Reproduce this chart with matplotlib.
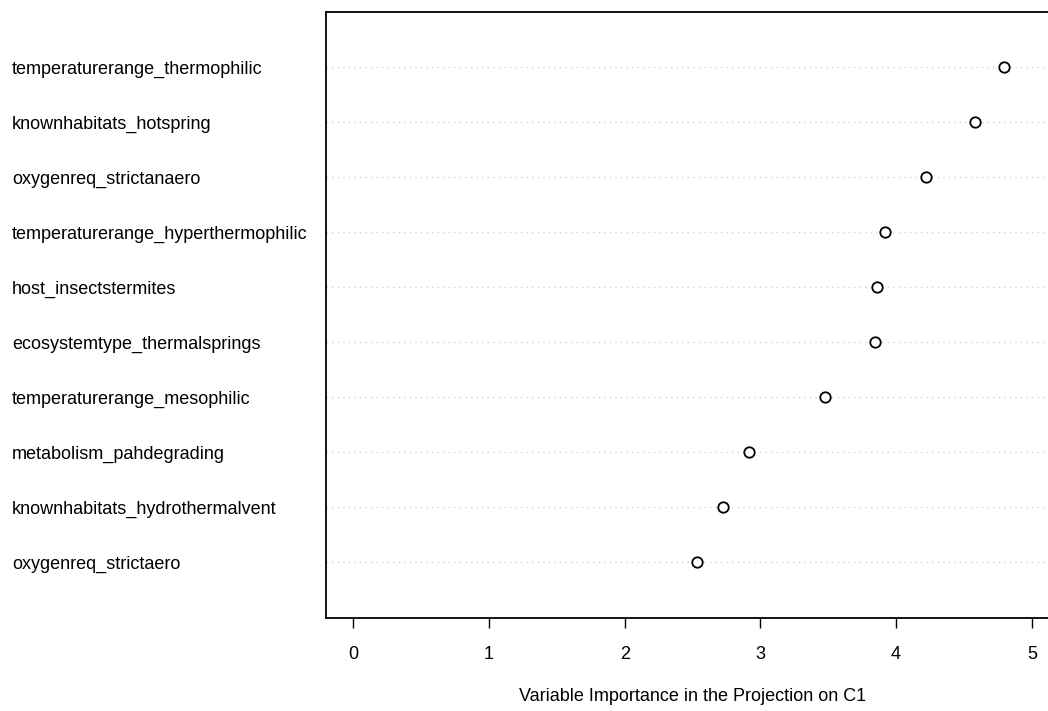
import matplotlib
matplotlib.use("Agg")
import matplotlib.pyplot as plt
import numpy as np

plt.rcParams['font.family'] = ['Liberation Sans', 'DejaVu Sans']

# variables listed from bottom to top, as in the dotchart
variables = [
    'oxygenreq_strictaero',
    'knownhabitats_hydrothermalvent',
    'metabolism_pahdegrading',
    'temperaturerange_mesophilic',
    'ecosystemtype_thermalsprings',
    'host_insectstermites',
    'temperaturerange_hyperthermophilic',
    'oxygenreq_strictanaero',
    'knownhabitats_hotspring',
    'temperaturerange_thermophilic',
]
vip_c1 = [2.533, 2.722, 2.918, 3.478, 3.845, 3.862, 3.916, 4.218, 4.579, 4.793]
x_ticks = [0, 1, 2, 3, 4, 5]

W, H = 1048, 711
fig = plt.figure(figsize=(W / 100, H / 100), dpi=100)
# right side of the box falls outside the picture, like the original
ax = fig.add_axes([326 / W, (H - 617.5) / H, (1059 - 326) / W, (617.5 - 12) / H])

ypos = np.arange(1, len(variables) + 1)
for y in ypos:
    ax.axhline(y, color='#d3d3d3', linestyle=(0, (1, 3)), linewidth=1.0, zorder=1)
ax.plot(vip_c1, ypos, linestyle='none', marker='o', markersize=7.5,
        markerfacecolor='white', markeredgecolor='black', markeredgewidth=1.3, zorder=3)

ax.set_xlim(-0.2, 5.2)
ax.set_ylim(0, len(variables) + 1)
ax.set_xticks(x_ticks)
ax.set_xticklabels([str(t) for t in x_ticks], fontsize=13)
ax.tick_params(axis='x', length=7.2, width=1.0, pad=13, color='black')

ax.set_yticks(ypos)
ax.set_yticklabels(variables, fontsize=13)
ax.tick_params(axis='y', length=0, pad=226)
for lbl in ax.get_yticklabels():
    lbl.set_horizontalalignment('left')

for s in ax.spines.values():
    s.set_linewidth(1.3)
    s.set_color('black')

ax.set_xlabel('Variable Importance in the Projection on C1', fontsize=13, labelpad=18)

fig.savefig('out.png', dpi=100)
